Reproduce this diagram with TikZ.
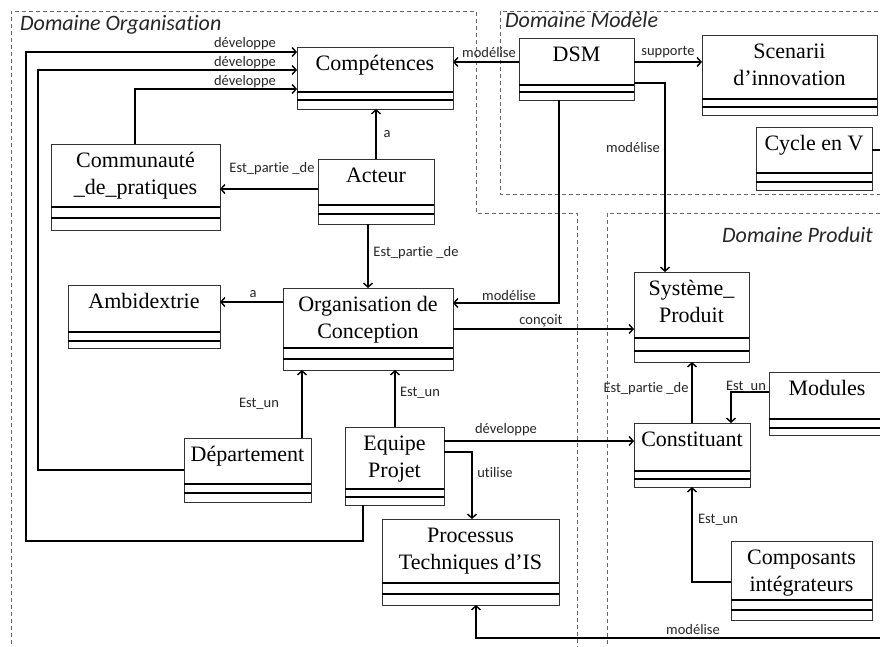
\documentclass[tikz,border=0pt]{standalone}
\usepackage{fontspec}
\setmainfont{Liberation Serif}
\newfontfamily\labfam[Ligatures=NoCommon]{Carlito}
\usetikzlibrary{arrows.meta}
\newcommand\clsfont{\fontsize{22}{27}\selectfont}
\newcommand\labfont{\labfam\fontsize{14.5}{17}\selectfont}
\newcommand\domfont{\labfam\itshape\fontsize{22}{26}\selectfont}
\newcommand\umlclass[9]{%
  \node[clsbox, minimum width={(#4)-(#2)}, minimum height={(#5)-(#3)}] (#1) at ({((#2)+(#4))/2},{((#3)+(#5))/2}) {};
  \draw[sepline] (#1.west |- 0,#6) -- (#1.east |- 0,#6);
  \draw[sepline] (#1.west |- 0,#7) -- (#1.east |- 0,#7);
  \node[clsname] (#1-a) at ({((#2)+(#4))/2},{(#3)+23.5}) {#8};
  \if\relax\detokenize{#9}\relax\else
  \node[clsname] (#1-b) at ({((#2)+(#4))/2},{(#3)+50.5}) {#9};
  \fi
}
\begin{document}
\begin{tikzpicture}[x=1pt,y=-1pt,
  clsbox/.style={draw=black!80, line width=1pt, fill=white, inner sep=0pt, outer sep=0pt, rectangle},
  sepline/.style={line width=1.7pt, black},
  clsname/.style={font=\clsfont, anchor=base, inner sep=0pt},
  lab/.style={font=\labfont, anchor=base, inner sep=0pt, text=black!85},
  domlab/.style={font=\domfont, anchor=base west, inner sep=0pt, text=black!85},
  domline/.style={draw=black!60, line width=1pt, dash pattern=on 4pt off 3pt},
  arr/.style={line width=1.4pt, line join=miter, -{Straight Barb[length=4pt,width=9pt]}},
  conn/.style={line width=1.4pt, line join=miter}]
\useasboundingbox (0,0) rectangle (880,646);
\fill[white] (0,0) rectangle (880,646);
\clip (0,0) rectangle (880,646);

% domains
\draw[domline] (11,700) -- (11,11) -- (476,11) -- (476,213) -- (577,213) -- (577,700);
\draw[domline] (920,11) -- (500,11) -- (500,194) -- (920,194);
\draw[domline] (607,700) -- (607,213) -- (920,213);
\node[domlab] (dorg) at (20,30) {Domaine Organisation};
\node[domlab] (dmod) at (505,27) {Domaine Modèle};
\node[domlab] (dprod) at (722,242) {Domaine Produit};

% classes
\umlclass{comp}{297}{47}{453}{109}{92}{100}{Compétences}{}
\umlclass{dsm}{519}{38}{634}{100}{85}{92}{DSM}{}
\umlclass{scen}{702}{35}{877}{115}{99}{107}{Scenarii}{d’innovation}
\umlclass{cyc}{756}{127}{872}{190}{173}{182}{Cycle en V}{}
\umlclass{cdp}{51}{144}{220}{230}{207}{218}{Communauté}{\_de\_pratiques}
\umlclass{act}{318}{159}{434}{224}{205}{214}{Acteur}{}
\umlclass{amb}{68}{285}{220}{348}{332}{341}{Ambidextrie}{}
\umlclass{org}{283}{288}{453}{370}{348}{359}{Organisation de}{Conception}
\umlclass{sys}{634}{272}{749}{362}{338}{351}{Système\_}{Produit}
\umlclass{mod}{769}{372}{885}{435}{419}{428}{Modules}{}
\umlclass{cst}{634}{423}{750}{487}{471}{479}{Constituant}{}
\umlclass{cpi}{731}{541}{872}{620}{600}{610}{Composants}{intégrateurs}
\umlclass{dep}{184}{438}{311}{502}{484}{493}{Département}{}
\umlclass{eqp}{345}{427}{444}{505}{489}{497}{Equipe}{Projet}
\umlclass{proc}{382}{519}{559}{605}{583}{594}{Processus}{Techniques d’IS}

% connectors
\draw[arr] (eqp.south -| 363,0) |- (26,541) |- (comp.west |- 0,52);
\draw[arr] (dep.west |- 0,470) -| (38,70) -- (comp.west |- 0,70);
\draw[arr] (cdp.north -| 135,0) |- (comp.west |- 0,89);
\draw[arr] (act.north -| 376,0) -- (comp.south -| 376,0);
\draw[arr] (act.west |- 0,189) -- (cdp.east |- 0,189);
\draw[arr] (act.south -| 368,0) -- (org.north -| 368,0);
\draw[arr] (org.west |- 0,302) -- (amb.east |- 0,302);
\draw[arr] (dsm.west |- 0,62) -- (comp.east |- 0,62);
\draw[arr] (dsm.east |- 0,62) -- (scen.west |- 0,62);
\draw[arr] (dsm.south -| 559,0) |- (org.east |- 0,303);
\draw[arr] (dsm.east |- 0,83) -| (sys.north -| 665,0);
\draw[arr] (org.east |- 0,329) -- (sys.west |- 0,329);
\draw[arr] (dep.north -| 302,0) -- (org.south -| 302,0);
\draw[arr] (eqp.north -| 395,0) -- (org.south -| 395,0);
\draw[arr] (eqp.east |- 0,441) -- (cst.west |- 0,441);
\draw[arr] (eqp.east |- 0,452) -| (proc.north -| 472,0);
\draw[arr] (cst.north -| 692,0) -- (sys.south -| 692,0);
\draw[arr] (mod.west |- 0,392) -| (cst.north -| 731,0);
\draw[arr] (cpi.west |- 0,582) -| (cst.south -| 692,0);
\draw[arr] (cyc.east |- 0,150) -| (900,638) -| (proc.south -| 476,0);

% labels
\node[lab] (l1) at (245,47) {développe};
\node[lab] (l2) at (245,66) {développe};
\node[lab] (l3) at (245,85) {développe};
\node[lab] (l4) at (387,137) {a};
\node[lab] (l5) at (272,172) {Est\_partie \_de};
\node[lab] (l6) at (416,256) {Est\_partie \_de};
\node[lab] (l7) at (253,297) {a};
\node[lab] (l8) at (489,57) {modélise};
\node[lab] (l9) at (668,55) {supporte};
\node[lab] (l10) at (633,152) {modélise};
\node[lab] (l11) at (509,300) {modélise};
\node[lab] (l12) at (541,324) {conçoit};
\node[lab] (l13) at (259,407) {Est\_un};
\node[lab] (l14) at (420,396) {Est\_un};
\node[lab] (l15) at (506,433) {développe};
\node[lab] (l16) at (495,477) {utilise};
\node[lab] (l17) at (646,392) {Est\_partie \_de};
\node[lab] (l18) at (746,390) {Est\_un};
\node[lab] (l19) at (718,523) {Est\_un};
\node[lab] (l20) at (693,634) {modélise};
\end{tikzpicture}
\end{document}
